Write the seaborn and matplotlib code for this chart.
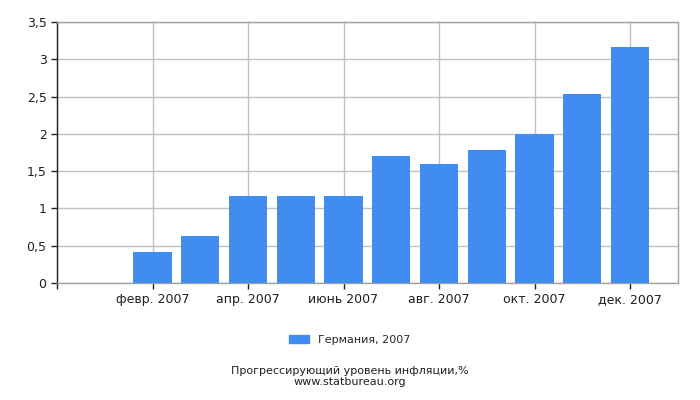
import numpy as np
import pandas as pd
import seaborn as sns
import matplotlib
matplotlib.use("Agg")
import matplotlib.pyplot as plt
from matplotlib.ticker import FuncFormatter, MultipleLocator, FixedLocator
from matplotlib.patches import Patch

sns.set_style("white")
plt.rcParams["font.family"] = ["DejaVu Sans"]

months = ["янв. 2007", "февр. 2007", "март 2007", "апр. 2007", "май 2007", "июнь 2007",
          "июль 2007", "авг. 2007", "сент. 2007", "окт. 2007", "нояб. 2007", "дек. 2007"]
values = [0.0, 0.42, 0.63, 1.16, 1.16, 1.16, 1.70, 1.59, 1.79, 2.00, 2.54, 3.17]
series_name = "Германия, 2007"
bar_color = "#418CF0"

df = pd.DataFrame({"month": months, "value": values})

fig = plt.figure(figsize=(7, 4), dpi=100)
ax = fig.add_axes([0.0814, 0.2925, 0.887, 0.6525])

sns.barplot(data=df, x="month", y="value", color=bar_color, width=0.8,
            saturation=1, linewidth=0, ax=ax, zorder=3)

ax.set_xlim(-1, 12)
ax.set_ylim(0, 3.5)
ax.yaxis.set_major_locator(MultipleLocator(0.5))
ax.yaxis.set_major_formatter(FuncFormatter(lambda v, p: f"{v:g}".replace(".", ",")))

shown = list(range(1, 12, 2))
ax.xaxis.set_major_locator(FixedLocator(shown))
ax.set_xticklabels([months[i] for i in shown])
ax.xaxis.set_minor_locator(FixedLocator([-1]))

ax.grid(True, which="major", color="#c0c0c0", linewidth=1, zorder=0)
ax.set_axisbelow(True)
ax.set_xlabel("")
ax.set_ylabel("")

for s in ["top", "right"]:
    ax.spines[s].set_color("#a0a0a0")
ax.spines["bottom"].set_color("#a0a0a0")
ax.spines["left"].set_color("#202020")
for s in ax.spines.values():
    s.set_linewidth(1)

ax.tick_params(axis="both", which="both", length=4, width=1, color="#202020",
               labelsize=9, labelcolor="#202020", direction="out")
ax.tick_params(axis="both", bottom=True, left=True)
ax.tick_params(axis="x", which="minor", bottom=True, length=4)

fig.legend(handles=[Patch(color=bar_color, label=series_name)],
           loc="center", bbox_to_anchor=(0.5, 0.15), frameon=False,
           fontsize=8, handlelength=1.8, handleheight=0.8)

fig.text(0.5, 0.073, "Прогрессирующий уровень инфляции,%", ha="center",
         va="center", fontsize=8, color="#202020")
fig.text(0.5, 0.046, "www.statbureau.org", ha="center", va="center",
         fontsize=8, color="#202020")

fig.savefig("out.png", dpi=100)
